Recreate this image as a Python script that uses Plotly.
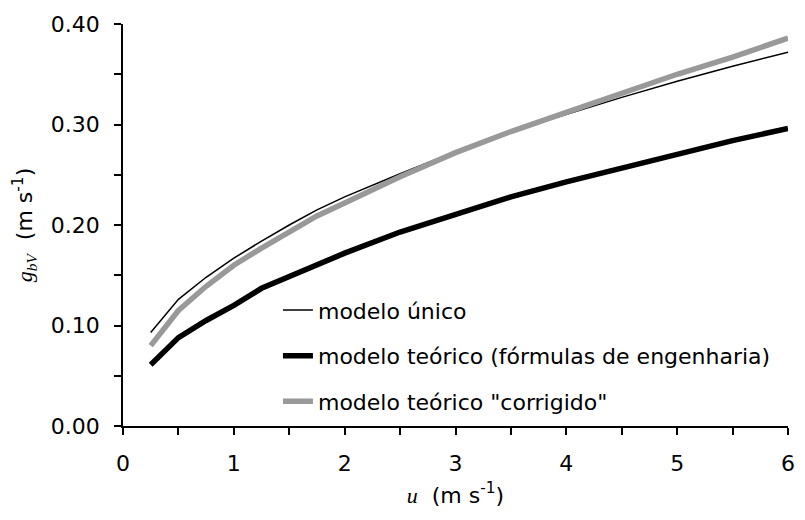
import plotly.graph_objects as go

# Wind speed u (m s-1)
u = [0.25, 0.5, 0.75, 1.0, 1.25, 1.5, 1.75, 2.0, 2.5, 3.0, 3.5, 4.0, 4.5, 5.0, 5.5, 6.0]

# Boundary-layer conductance g_bV (m s-1) for each model
modelo_unico = [0.093, 0.126, 0.148, 0.167, 0.184, 0.200, 0.215, 0.228, 0.251, 0.273,
                0.293, 0.310, 0.327, 0.343, 0.358, 0.372]
modelo_teorico = [0.061, 0.088, 0.105, 0.120, 0.137, 0.149, 0.161, 0.172, 0.193, 0.211,
                  0.228, 0.243, 0.257, 0.271, 0.284, 0.296]
modelo_corrigido = [0.080, 0.115, 0.139, 0.160, 0.177, 0.193, 0.209, 0.222, 0.248, 0.272,
                    0.293, 0.312, 0.331, 0.350, 0.367, 0.386]

series_names = ["modelo único",
                "modelo teórico (fórmulas de engenharia)",
                'modelo teórico "corrigido"']

FONT = "DejaVu Sans, Arial, sans-serif"
SERIF = "'Liberation Serif', 'Times New Roman', serif"
FS = 22

fig = go.Figure()
fig.add_trace(go.Scatter(x=u, y=modelo_unico, mode="lines", name=series_names[0],
                         legendgroup="a",
                         line=dict(color="black", width=1.5)))
fig.add_trace(go.Scatter(x=u, y=modelo_teorico, mode="lines", name=series_names[1],
                         legendgroup="b",
                         line=dict(color="black", width=5.5)))
fig.add_trace(go.Scatter(x=u, y=modelo_corrigido, mode="lines", name=series_names[2],
                         legendgroup="c",
                         line=dict(color="#999999", width=5.5)))

fig.update_layout(
    width=805, height=520,
    margin=dict(l=123, r=10, t=24, b=94),
    paper_bgcolor="white", plot_bgcolor="white",
    font=dict(family=FONT, size=FS, color="black"),
    showlegend=True,
    legend=dict(x=0.233, y=0.34, xanchor="left", yanchor="top",
                bgcolor="rgba(0,0,0,0)", traceorder="grouped",
                tracegroupgap=14, font=dict(size=FS)),
)

fig.update_xaxes(
    range=[0, 6], dtick=1, tick0=0,
    showgrid=False, zeroline=False,
    showline=True, linecolor="black", linewidth=1.5,
    ticks="outside", ticklen=7, tickwidth=1.5, tickcolor="black",
    ticklabelstandoff=10,
    minor=dict(dtick=0.5, ticks="outside", ticklen=7, tickwidth=1.5, tickcolor="black"),
    title=dict(text=f"<span style=\"font-family:{SERIF}\"><i>u</i></span>  (m s<sup>-1</sup>)",
               font=dict(size=FS), standoff=12),
)

fig.update_yaxes(
    range=[0, 0.40], dtick=0.1, tick0=0, tickformat=".2f",
    showgrid=False, zeroline=False,
    showline=True, linecolor="black", linewidth=1.5,
    ticks="outside", ticklen=7, tickwidth=1.5, tickcolor="black",
    ticklabelstandoff=10,
    minor=dict(dtick=0.05, ticks="outside", ticklen=7, tickwidth=1.5, tickcolor="black"),
    title=dict(text=f"<span style=\"font-family:{SERIF}\"><i>g</i><sub><i>bV</i></sub></span>  (m s<sup>-1</sup>)",
               font=dict(size=FS), standoff=12),
)

fig.write_html("out.html")
